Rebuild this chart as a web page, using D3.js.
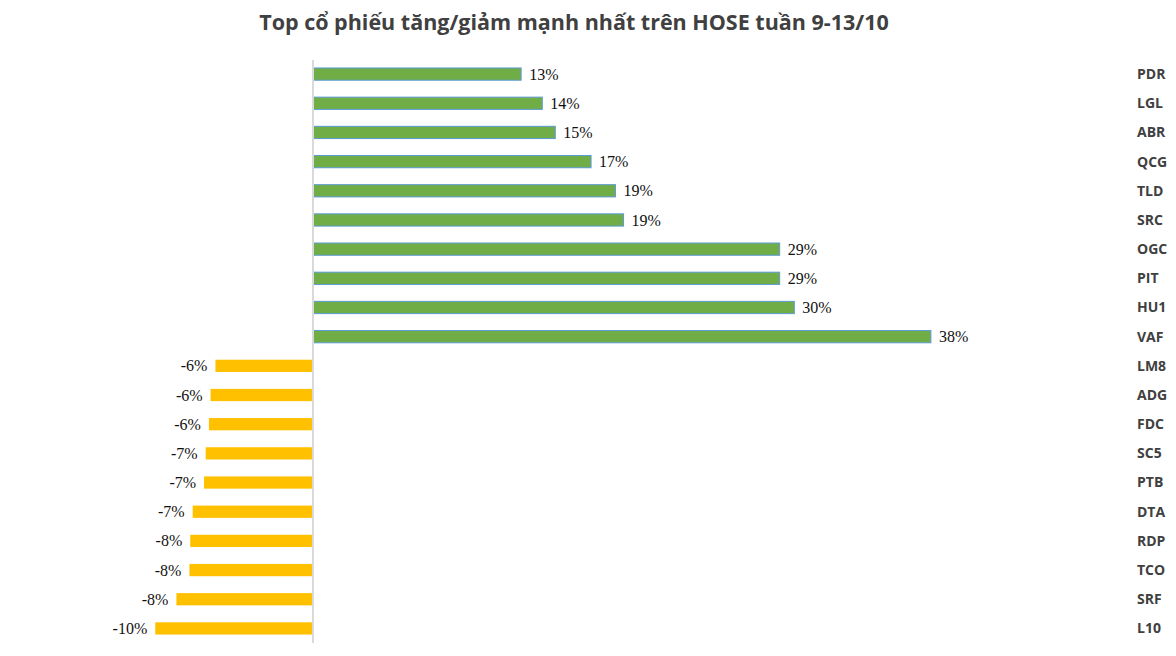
<!DOCTYPE html>
<meta charset="utf-8">
<style>
body { margin: 0; background: #fff; }
.chart .title { font-family: "Open Sans", sans-serif; font-weight: 700; fill: #404040; }
.chart .cat { font-family: "Open Sans", sans-serif; font-weight: 700; font-size: 14px; fill: #404040; }
.chart .val { font-family: "Liberation Serif", "Times New Roman", serif; font-size: 16px; fill: #111; }
.chart .baseline { stroke: #d9d9d9; stroke-width: 2; }
.chart .up { fill: #70ad47; stroke: #5b9bd5; stroke-width: 1; }
.chart .down { fill: #ffc000; }
</style>
<body>
<svg class="chart js-chart"></svg>

<script src="https://cdn.jsdelivr.net/npm/d3@7"></script>
<script type="text/javascript">
"use strict";

var categories = ["PDR", "LGL", "ABR", "QCG", "TLD", "SRC", "OGC", "PIT", "HU1", "VAF",
                  "LM8", "ADG", "FDC", "SC5", "PTB", "DTA", "RDP", "TCO", "SRF", "L10"];
var changes = [12.8, 14.1, 14.9, 17.1, 18.6, 19.1, 28.7, 28.7, 29.6, 38.0,
               -6.0, -6.3, -6.4, -6.6, -6.7, -7.4, -7.55, -7.6, -8.4, -9.7];
var titleText = "Top cổ phiếu tăng/giảm mạnh nhất trên HOSE tuần 9-13/10";

var width = 1176,
    height = 656;

var data = categories.map(function(c, i) { return { name: c, value: changes[i] }; });

var svg = d3.select(".js-chart")
    .attr("width", width)
    .attr("height", height);

var x = d3.scaleLinear()
    .domain([-10, 40])
    .range([150.4, 963.4]);

var y = d3.scaleBand()
    .domain(categories)
    .range([59.5, 643])
    .paddingInner(0.58)
    .paddingOuter(0.29);

function roundLabel(v) {
    return (v < 0 ? "-" : "") + Math.round(Math.abs(v)) + "%";
}

svg.append("text")
    .attr("class", "title")
    .attr("x", 574)
    .attr("y", 30)
    .attr("text-anchor", "middle")
    .style("font-size", "21.5px")
    .text(titleText);

svg.selectAll(".bar")
    .data(data)
    .enter().append("rect")
    .attr("class", function(d) { return d.value >= 0 ? "bar up" : "bar down"; })
    .attr("x", function(d) { return x(Math.min(0, d.value)); })
    .attr("y", function(d) { return y(d.name); })
    .attr("width", function(d) { return Math.abs(x(d.value) - x(0)); })
    .attr("height", y.bandwidth());

svg.append("line")
    .attr("class", "baseline")
    .attr("x1", x(0))
    .attr("x2", x(0))
    .attr("y1", 60)
    .attr("y2", 643);

svg.selectAll(".val")
    .data(data)
    .enter().append("text")
    .attr("class", "val")
    .attr("x", function(d) { return d.value >= 0 ? x(d.value) + 8 : x(d.value) - 8; })
    .attr("y", function(d) { return y(d.name) + y.bandwidth() / 2; })
    .attr("dy", "0.35em")
    .attr("text-anchor", function(d) { return d.value >= 0 ? "start" : "end"; })
    .text(function(d) { return roundLabel(d.value); });

svg.selectAll(".cat")
    .data(data)
    .enter().append("text")
    .attr("class", "cat")
    .attr("x", 1137)
    .attr("y", function(d) { return y(d.name) + y.bandwidth() / 2; })
    .attr("dy", "0.35em")
    .text(function(d) { return d.name; });

</script>
</body>
